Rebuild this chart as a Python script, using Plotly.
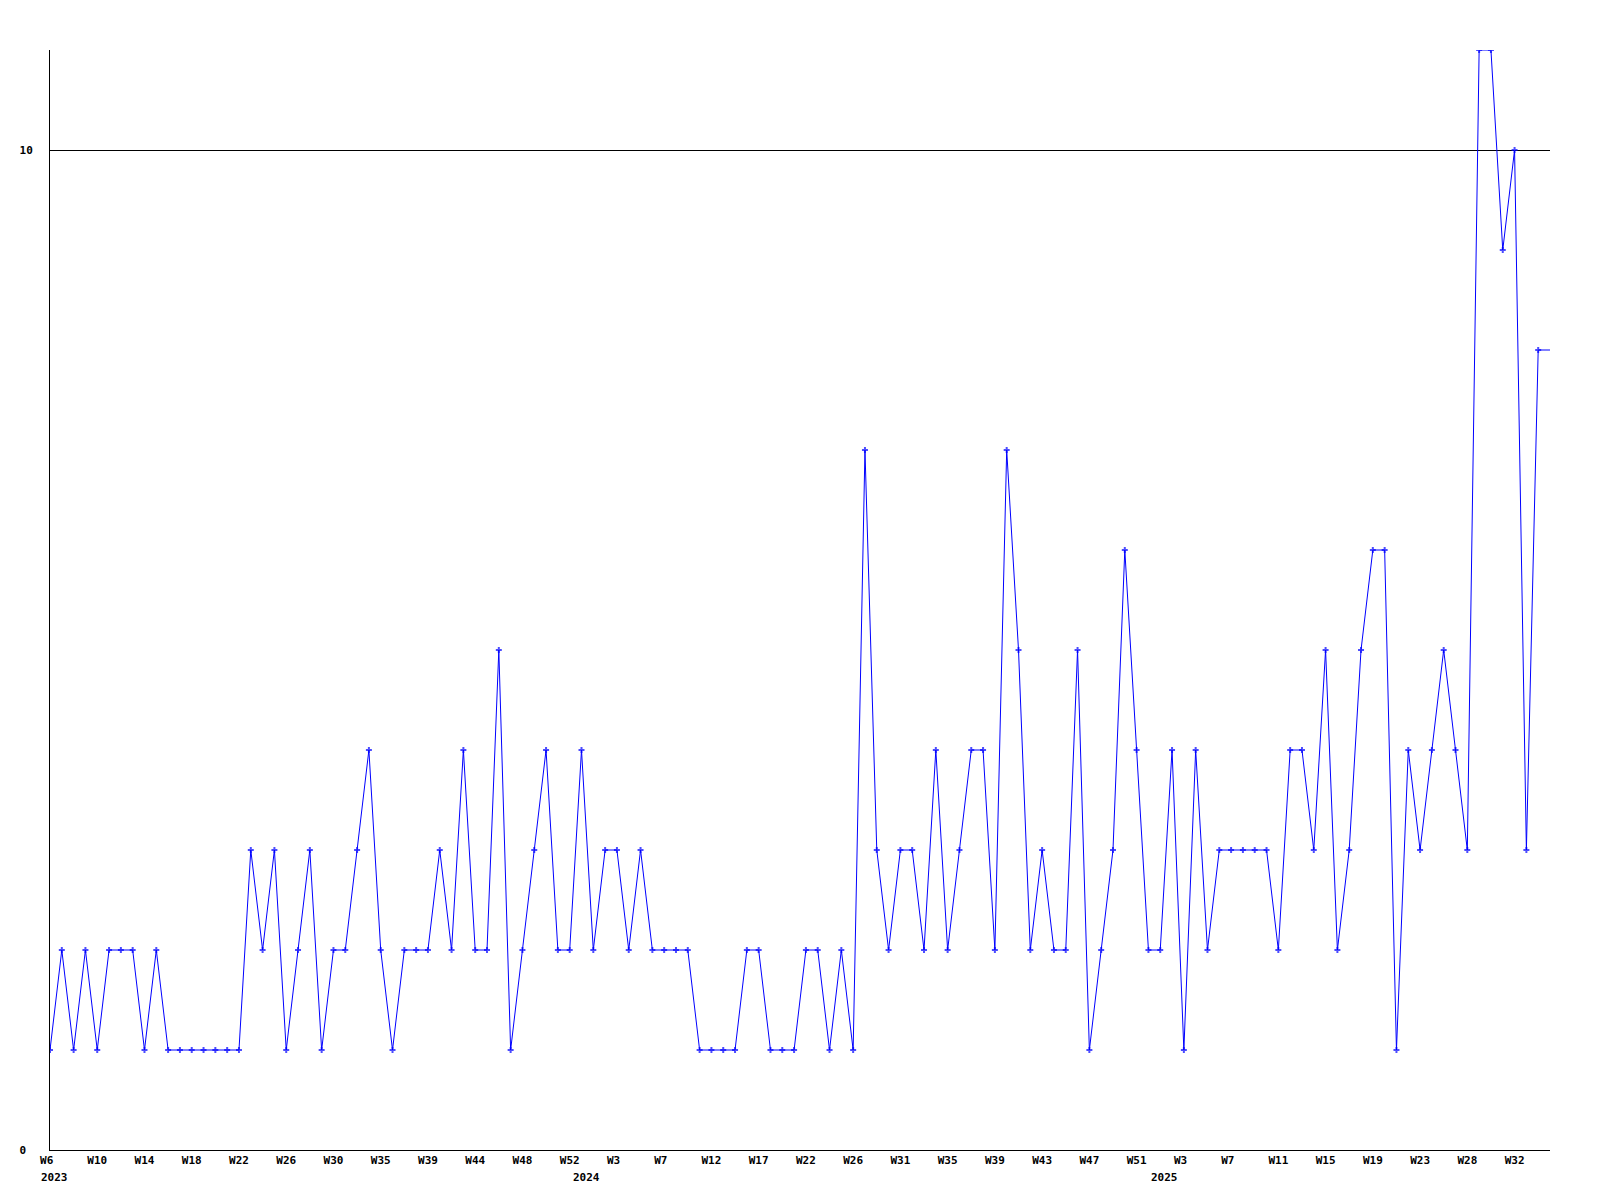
import plotly.graph_objects as go

# weekly counts, one per point
values = [
    1, 2, 1, 2, 1, 2, 2, 2, 1, 2,
    1, 1, 1, 1, 1, 1, 1, 3, 2, 3,
    1, 2, 3, 1, 2, 2, 3, 4, 2, 1,
    2, 2, 2, 3, 2, 4, 2, 2, 5, 1,
    2, 3, 4, 2, 2, 4, 2, 3, 3, 2,
    3, 2, 2, 2, 2, 1, 1, 1, 1, 2,
    2, 1, 1, 1, 2, 2, 1, 2, 1, 7,
    3, 2, 3, 3, 2, 4, 2, 3, 4, 4,
    2, 7, 5, 2, 3, 2, 2, 5, 1, 2,
    3, 6, 4, 2, 2, 4, 1, 4, 2, 3,
    3, 3, 3, 3, 2, 4, 4, 3, 5, 2,
    3, 5, 6, 6, 1, 4, 3, 4, 5, 4,
    3, 11, 11, 9, 10, 3, 8, 8,
]

# week labels, one every 4 points
week_labels = [
    "W6", "W10", "W14", "W18", "W22", "W26", "W30", "W35", "W39", "W44", "W48",
    "W52", "W3", "W7", "W12", "W17", "W22", "W26", "W31", "W35", "W39", "W43",
    "W47", "W51", "W3", "W7", "W11", "W15", "W19", "W23", "W28", "W32",
]
week_label_step = 4

# year labels and the point where each year starts
year_labels = ["2023", "2024", "2025"]
year_start_point = [0, 45, 94]

y_tick_values = [0, 10]
y_tick_labels = ["0", "10"]

n = len(values)
x = list(range(n))
marker_sizes = [5] * (n - 1) + [0]

mono = "DejaVu Sans Mono"
blue = "#0000ff"

fig = go.Figure()
fig.add_trace(go.Scatter(
    x=x, y=values, mode="lines+markers",
    line=dict(color=blue, width=1),
    marker=dict(symbol="cross", size=marker_sizes, color=blue, line=dict(width=0)),
    hoverinfo="skip", cliponaxis=True,
))

tickvals = [i * week_label_step for i in range(len(week_labels))]
# pad 2-char labels so they keep the same left edge as the 3-char ones
ticktext = [lab + "\u00a0" * (3 - len(lab)) for lab in week_labels]
ytext = [lab + "\u00a0" * (2 - len(lab)) for lab in y_tick_labels]

annotations = []
for lab, idx in zip(year_labels, year_start_point):
    annotations.append(dict(
        x=idx, y=0, xref="x", yref="y", text=f"<b>{lab}</b>",
        showarrow=False, xanchor="left", yanchor="middle",
        xshift=-11, yshift=-27, font=dict(family=mono, size=11, color="black"),
    ))

fig.update_layout(
    width=1600, height=1200,
    margin=dict(l=50, r=50, t=50, b=50),
    paper_bgcolor="white", plot_bgcolor="white",
    showlegend=False,
    font=dict(family=mono, size=11, color="black"),
    xaxis=dict(
        range=[0, n - 1], showgrid=False, zeroline=False,
        showline=True, linecolor="black", linewidth=1,
        ticks="", tickvals=tickvals, ticktext=[f"<b>{t}</b>" for t in ticktext],
        tickfont=dict(family=mono, size=11, color="black"),
        tickangle=0,
    ),
    yaxis=dict(
        range=[0, 11], showgrid=True, gridcolor="black", gridwidth=1,
        zeroline=False, showline=True, linecolor="black", linewidth=1,
        ticks="", tickvals=y_tick_values, ticktext=[f"<b>{t}</b>" for t in ytext],
        tickfont=dict(family=mono, size=11, color="black"),
        ticklabelstandoff=14,
    ),
    annotations=annotations,
)

fig.write_html(
    "out.html",
    config={"displayModeBar": False},
    post_script="document.body.style.margin='0';",
)
